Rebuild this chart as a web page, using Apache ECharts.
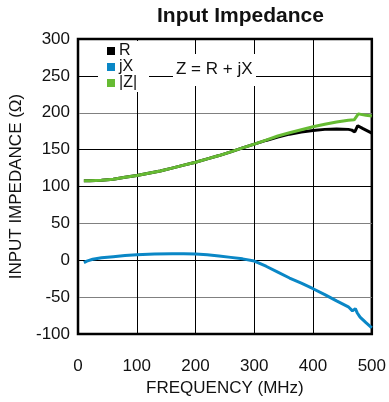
<!DOCTYPE html>
<html>
<head>
<meta charset="utf-8">
<script src="https://cdn.jsdelivr.net/npm/echarts@6/dist/echarts.min.js"></script>
<style>html,body{margin:0;padding:0;background:#fff;}#c{width:389px;height:402px;}</style>
</head>
<body>
<div id="c"></div>
<script>
// Frequency (MHz) and values (Ohm)
var freqR = [10,20,40,60,80,100,120,140,160,180,200,220,240,260,280,300,320,340,360,380,400,420,440,460,466,471,476,485,500];
var valR  = [107.8,107.8,108.5,110,112.5,115,118,121,125,129,133,137.5,142,147,152.5,157.5,162.5,167,171,174,176,177.5,178,177.5,176.5,174,182.5,178.5,172.5];
var freqX = [10,15,25,40,60,80,100,130,160,180,200,220,240,260,280,300,320,340,360,380,400,420,440,460,467,472,475,480,490,500];
var valX  = [-3,-1,1.5,3.5,5,6.5,7.5,8.5,9,9,8.5,7.5,6,4,2,-1,-8,-16,-24,-31,-38.5,-46.5,-55,-63,-68.5,-65.5,-71,-77,-84.5,-91.5];
var freqZ = [10,20,40,60,80,100,120,140,160,180,200,220,240,260,280,300,320,340,360,380,400,420,440,460,470,473,477,490,500];
var valZ  = [107.8,107.8,108.5,110,112.5,115,118,121,125,129,133,137.5,142,147,152.5,157.5,163,168.5,173,177,181,184.5,187.5,190,190.5,189,198.5,196.5,195.5];
var seriesNames = ['R','jX','|Z|'];
var xTicks = {min:0, max:500, step:100};
var yTicks = {min:-100, max:300, step:50};

function pairs(f, v){ return f.map(function(x,i){return [x, v[i]];}); }

var chart = echarts.init(document.getElementById('c'), null, {renderer:'canvas'});
var font = 'Liberation Sans, Arial, sans-serif';
chart.setOption({
  animation:false,
  backgroundColor:'#fff',
  title:{text:'Input Impedance', left:157, top:6, padding:0, textStyle:{fontFamily:font, fontSize:21, fontWeight:'bold', color:'#111'}},
  grid:{left:75, right:14, top:39, bottom:64, show:true, borderColor:'#000', borderWidth:2.5, backgroundColor:'transparent'},
  legend:{
    data:seriesNames, orient:'vertical', left:107, top:43, itemGap:0, padding:0,
    itemWidth:8, itemHeight:8, icon:'rect', itemStyle:{borderWidth:0},
    textStyle:{fontFamily:font, fontSize:16, lineHeight:16, color:'#111', padding:[0,0,0,-1]},
    z:6
  },
  xAxis:{
    type:'value', min:xTicks.min, max:xTicks.max, interval:xTicks.step,
    name:'FREQUENCY (MHz)', nameLocation:'middle', nameGap:42,
    nameTextStyle:{fontFamily:font, fontSize:17, color:'#111'},
    axisLine:{show:false}, axisTick:{show:false},
    axisLabel:{fontFamily:font, fontSize:17, color:'#111', margin:24},
    splitLine:{show:true, lineStyle:{color:'#000', width:1}}
  },
  yAxis:{
    type:'value', min:yTicks.min, max:yTicks.max, interval:yTicks.step,
    name:'INPUT IMPEDANCE (\u03A9)', nameLocation:'middle', nameGap:53,
    nameTextStyle:{fontFamily:font, fontSize:17, color:'#111'},
    axisLine:{show:false}, axisTick:{show:false},
    axisLabel:{fontFamily:font, fontSize:17, color:'#111', margin:8},
    splitLine:{show:true, lineStyle:{color:['#000','#808080','#000','#808080','#000','#000','#808080','#000','#000'], width:1}}
  },
  graphic:[
    {type:'rect', shape:{x:98, y:41, width:51, height:51}, style:{fill:'#fff'}, z:3, silent:true},
    {type:'rect', shape:{x:173, y:54, width:83, height:32}, style:{fill:'#fff'}, z:3, silent:true},
    {type:'text', left:176, top:61, z:4, style:{text:'Z = R + jX', fontFamily:font, fontSize:17, fill:'#111'}}
  ],
  series:[
    {name:'R', type:'line', data:pairs(freqR,valR), symbol:'none', lineStyle:{color:'#000', width:3}, itemStyle:{color:'#000'}, z:2},
    {name:'jX', type:'line', data:pairs(freqX,valX), symbol:'none', lineStyle:{color:'#0a87c6', width:3}, itemStyle:{color:'#0a87c6'}, z:3},
    {name:'|Z|', type:'line', data:pairs(freqZ,valZ), symbol:'none', lineStyle:{color:'#66bb33', width:3}, itemStyle:{color:'#66bb33'}, z:4}
  ]
});
</script>
</body>
</html>
